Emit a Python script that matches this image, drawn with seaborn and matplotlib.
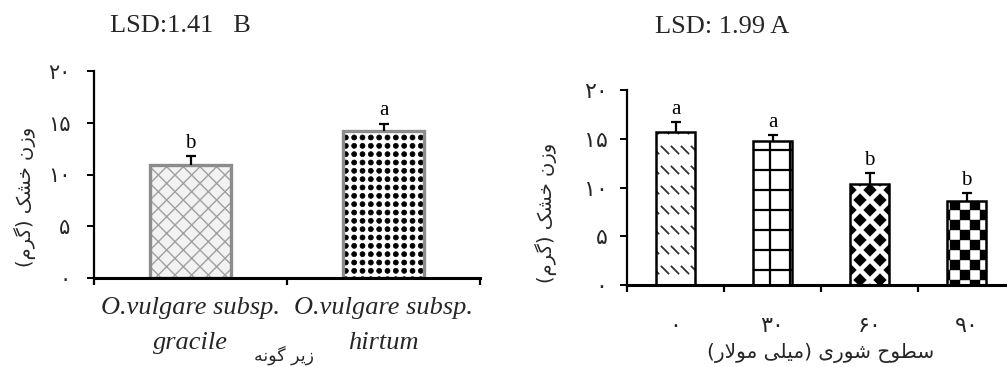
import numpy as np
import pandas as pd
import matplotlib
matplotlib.use("Agg")
import matplotlib.pyplot as plt
import matplotlib.hatch as mhatch
from matplotlib.colors import to_rgba
from matplotlib.path import Path
import seaborn as sns

# ---------------- data ----------------
species_prefix = "O.vulgare subsp."
subspecies = ["gracile", "hirtum"]
subspecies_mean = [10.9, 14.25]
subspecies_err = [0.9, 0.65]
subspecies_group = ["b", "a"]

salinity = ["۰", "۳۰", "۶۰", "۹۰"]
salinity_mean = [15.7, 14.75, 10.35, 8.6]
salinity_err = [1.0, 0.65, 1.1, 0.85]
salinity_group = ["a", "a", "b", "b"]

yticks = [0, 5, 10, 15, 20]
ytick_labels = ["۰", "۵", "۱۰", "۱۵", "۲۰"]

title_left = "LSD:1.41   B"
title_right = "LSD: 1.99 A"
ylabel_text = "وزن خشک (گرم)"
xlabel_left = "زیر گونه"
xlabel_right = "سطوح شوری (میلی مولار)"

# ---------------- Persian text shaping (matplotlib has no bidi/shaping) ----------------
_FORMS = {
    "ا": ("\uFE8D", "\uFE8E", None, None),
    "ح": ("\uFEA1", "\uFEA2", "\uFEA3", "\uFEA4"),
    "خ": ("\uFEA5", "\uFEA6", "\uFEA7", "\uFEA8"),
    "ر": ("\uFEAD", "\uFEAE", None, None),
    "ز": ("\uFEAF", "\uFEB0", None, None),
    "س": ("\uFEB1", "\uFEB2", "\uFEB3", "\uFEB4"),
    "ش": ("\uFEB5", "\uFEB6", "\uFEB7", "\uFEB8"),
    "ط": ("\uFEC1", "\uFEC2", "\uFEC3", "\uFEC4"),
    "ل": ("\uFEDD", "\uFEDE", "\uFEDF", "\uFEE0"),
    "م": ("\uFEE1", "\uFEE2", "\uFEE3", "\uFEE4"),
    "ن": ("\uFEE5", "\uFEE6", "\uFEE7", "\uFEE8"),
    "ه": ("\uFEE9", "\uFEEA", "\uFEEB", "\uFEEC"),
    "و": ("\uFEED", "\uFEEE", None, None),
    "ی": ("\uFBFC", "\uFBFD", "\uFBFE", "\uFBFF"),
    "ک": ("\uFB8E", "\uFB8F", "\uFB90", "\uFB91"),
    "گ": ("\uFB92", "\uFB93", "\uFB94", "\uFB95"),
}
_LAM_ALEF = ("\uFEFB", "\uFEFC")
_MIRROR = {"(": ")", ")": "("}


def _joins_next(c):
    return c in _FORMS and _FORMS[c][2] is not None


def shape_rtl(text):
    chars = list(text)
    out = []
    i = 0
    while i < len(chars):
        c = chars[i]
        prev_joins = i > 0 and _joins_next(chars[i - 1])
        if c not in _FORMS:
            out.append(_MIRROR.get(c, c))
            i += 1
            continue
        if c == "ل" and i + 1 < len(chars) and chars[i + 1] == "ا":
            out.append(_LAM_ALEF[1 if prev_joins else 0])
            i += 2
            continue
        nxt = chars[i + 1] if i + 1 < len(chars) else None
        next_joins = _joins_next(c) and nxt in _FORMS
        iso, fin, ini, med = _FORMS[c]
        if prev_joins and next_joins:
            g = med
        elif prev_joins:
            g = fin
        elif next_joins:
            g = ini
        else:
            g = iso
        out.append(g)
        i += 1
    return "".join(reversed(out))


# ---------------- fill patterns ----------------
def _closed(polys):
    verts, codes = [], []
    for poly in polys:
        verts.extend(poly)
        verts.append(poly[0])
        codes.extend([Path.MOVETO] + [Path.LINETO] * (len(poly) - 1) + [Path.CLOSEPOLY])
    return np.array(verts, float), np.array(codes, Path.code_type)


def _segments(segs):
    verts, codes = [], []
    for a, b in segs:
        verts.extend([a, b])
        codes.extend([Path.MOVETO, Path.LINETO])
    return np.array(verts, float), np.array(codes, Path.code_type)


class _TileHatch(mhatch.HatchPatternBase):
    symbol = ""

    def __init__(self, hatch, density):
        if hatch and self.symbol in hatch:
            self._verts, self._codes = self.tile()
            self.num_vertices = len(self._verts)
        else:
            self.num_vertices = 0

    def set_vertices_and_codes(self, vertices, codes):
        vertices[:] = self._verts
        codes[:] = self._codes


class CheckerHatch(_TileHatch):
    symbol = "c"

    def tile(self):
        n = 10
        s = 1.0 / n
        polys = []
        for i in range(n):
            for j in range(n):
                if (i + j) % 2 == 0:
                    x0, y0 = i * s, j * s
                    polys.append([(x0, y0), (x0 + s, y0), (x0 + s, y0 + s), (x0, y0 + s)])
        return _closed(polys)


class DiamondHatch(_TileHatch):
    symbol = "d"

    def tile(self):
        n = 5
        p = 1.0 / n
        r = 0.31 * p
        centers = [(i * p, j * p) for i in range(n + 1) for j in range(n + 1)]
        centers += [((i + 0.5) * p, (j + 0.5) * p) for i in range(n) for j in range(n)]
        polys = [[(cx - r, cy), (cx, cy - r), (cx + r, cy), (cx, cy + r)] for cx, cy in centers]
        return _closed(polys)


class DashHatch(_TileHatch):
    symbol = "k"

    def tile(self):
        segs = []
        for j in range(5):
            y = (j + 0.5) * 0.2
            for i in range(10):
                x = i * 0.1 + 0.015
                segs.append(((x, y + 0.035), (x + 0.07, y - 0.035)))
        return _segments(segs)


class GridHatch(_TileHatch):
    symbol = "g"

    def tile(self):
        segs = []
        for k in range(5):
            t = (k + 0.5) * 0.2
            segs.append(((0.0, t), (1.0, t)))
            segs.append(((t, 0.0), (t, 1.0)))
        return _segments(segs)


class DotHatch(_TileHatch):
    symbol = "p"

    def tile(self):
        n = 12
        verts, codes = [], []
        for i in range(n):
            for j in range(n):
                c = Path.circle(((i + 0.5) / n, (j + 0.5) / n), 0.025)
                verts.append(c.vertices)
                codes.append(c.codes)
        return np.concatenate(verts), np.concatenate(codes).astype(Path.code_type)


mhatch._hatch_types.extend([CheckerHatch, DiamondHatch, DashHatch, GridHatch, DotHatch])
mhatch._validate_hatch_pattern = lambda hatch: None


def style_bar(patch, hatch, face, edge, hatch_color, hatch_lw, lw):
    patch.set_facecolor(face)
    patch.set_edgecolor(edge)
    patch.set_linewidth(lw)
    patch.set_hatch(hatch)
    if hasattr(patch, "set_hatchcolor"):
        patch.set_hatchcolor(hatch_color)
    else:
        patch._hatch_color = to_rgba(hatch_color)
    if hasattr(patch, "set_hatch_linewidth"):
        patch.set_hatch_linewidth(hatch_lw)
    patch.stale = True


# ---------------- figure ----------------
sns.set_theme(style="white")
plt.rcParams["font.family"] = ["Liberation Serif", "DejaVu Sans"]
plt.rcParams["hatch.linewidth"] = 1.0

W, H = 1007, 367
fig = plt.figure(figsize=(W / 100, H / 100), dpi=100)
fig.patch.set_facecolor("white")

ax1 = fig.add_axes([94 / W, (H - 278) / H, (480 - 94) / W, (278 - 71) / H])
ax2 = fig.add_axes([627 / W, (H - 285) / H, 388 / W, (285 - 90) / H])

df_sub = pd.DataFrame({"group": subspecies, "weight": subspecies_mean})
df_sal = pd.DataFrame({"group": salinity, "weight": salinity_mean})

sns.barplot(data=df_sub, x="group", y="weight", ax=ax1, width=0.42, color="white",
            saturation=1, errorbar=None)
sns.barplot(data=df_sal, x="group", y="weight", ax=ax2, width=0.40, color="white",
            saturation=1, errorbar=None)

left_styles = [
    dict(hatch="xx", face="#f2f2f2", edge="#8c8c8c", hatch_color="#a0a0a0", hatch_lw=1.0, lw=2.4),
    dict(hatch="p", face="white", edge="#8c8c8c", hatch_color="black", hatch_lw=0.5, lw=2.4),
]
right_styles = [
    dict(hatch="k", face="white", edge="black", hatch_color="#333333", hatch_lw=1.3, lw=1.8),
    dict(hatch="g", face="white", edge="black", hatch_color="black", hatch_lw=1.6, lw=1.8),
    dict(hatch="d", face="white", edge="black", hatch_color="black", hatch_lw=0.5, lw=1.8),
    dict(hatch="c", face="white", edge="black", hatch_color="black", hatch_lw=0.3, lw=1.8),
]
for patch, st in zip(ax1.patches, left_styles):
    style_bar(patch, **st)
for patch, st in zip(ax2.patches, right_styles):
    style_bar(patch, **st)


def add_errors(ax, means, errs, groups):
    x = np.arange(len(means))
    _, caps, _ = ax.errorbar(x, means, yerr=[np.zeros(len(errs)), errs], fmt="none",
                             ecolor="black", elinewidth=1.6, capsize=3.8, capthick=1.6,
                             zorder=4)
    for cap in caps:
        if np.allclose(cap.get_ydata(), means):
            cap.set_visible(False)
    for xi, m, e, g in zip(x, means, errs, groups):
        ax.annotate(g, (xi, m + e), xytext=(0, 6), textcoords="offset points",
                    ha="center", va="baseline", fontsize=15, color="black")


add_errors(ax1, subspecies_mean, subspecies_err, subspecies_group)
add_errors(ax2, salinity_mean, salinity_err, salinity_group)


def style_axes(ax, n, labels, ypad, xpad, ylab_size, xlab_kw):
    ax.set_xlim(-0.5, n - 0.5)
    ax.set_ylim(0, 20)
    ax.set_xlabel("")
    ax.set_ylabel("")
    for side in ("top", "right"):
        ax.spines[side].set_visible(False)
    ax.spines["left"].set_linewidth(1.6)
    ax.spines["bottom"].set_linewidth(2.2)
    ax.spines["left"].set_color("black")
    ax.spines["bottom"].set_color("black")
    ax.set_yticks(yticks)
    ax.set_yticklabels(ytick_labels, fontsize=ylab_size, family="DejaVu Sans")
    ax.tick_params(axis="y", which="major", left=True, direction="out", length=5,
                   width=1.4, color="black", pad=ypad)
    ax.set_xticks(np.arange(n + 1) - 0.5)
    ax.set_xticklabels([])
    ax.tick_params(axis="x", which="major", bottom=True, direction="out", length=5,
                   width=1.6, color="black")
    ax.set_xticks(np.arange(n), labels, minor=True, **xlab_kw)
    ax.tick_params(axis="x", which="minor", bottom=True, length=0, pad=xpad)
    ax.grid(False)


# first line of each subspecies label sits on the tick, the epithet below it
style_axes(ax1, len(subspecies), [species_prefix] * len(subspecies), ypad=12, xpad=14,
           ylab_size=15,
           xlab_kw=dict(fontsize=19, fontstyle="italic", family="Liberation Serif"))
for i, name in enumerate(subspecies):
    ax1.annotate(name, (i, 0), xycoords=ax1.get_xaxis_transform(), xytext=(0, -47),
                 textcoords="offset points", ha="center", va="center", fontsize=19,
                 fontstyle="italic", family="Liberation Serif")

style_axes(ax2, len(salinity), salinity, ypad=9, xpad=22, ylab_size=16,
           xlab_kw=dict(fontsize=16, family="DejaVu Sans"))

# titles and axis labels
fig.text(180 / W, 1 - 26 / H, title_left, ha="center", va="center", fontsize=19,
         family="Liberation Serif")
fig.text(722 / W, 1 - 27 / H, title_right, ha="center", va="center", fontsize=19,
         family="Liberation Serif")
fig.text(25 / W, 1 - 197 / H, shape_rtl(ylabel_text), rotation=90, ha="center",
         va="center", fontsize=14, family="DejaVu Sans")
fig.text(546 / W, 1 - 213 / H, shape_rtl(ylabel_text), rotation=90, ha="center",
         va="center", fontsize=14, family="DejaVu Sans")
fig.text(284 / W, 2 / H, shape_rtl(xlabel_left), ha="center", va="bottom",
         fontsize=12.5, family="DejaVu Sans")
fig.text(821 / W, 1 - 353 / H, shape_rtl(xlabel_right), ha="center", va="center",
         fontsize=14.5, family="DejaVu Sans")

fig.savefig("out.png", dpi=100, facecolor="white")
